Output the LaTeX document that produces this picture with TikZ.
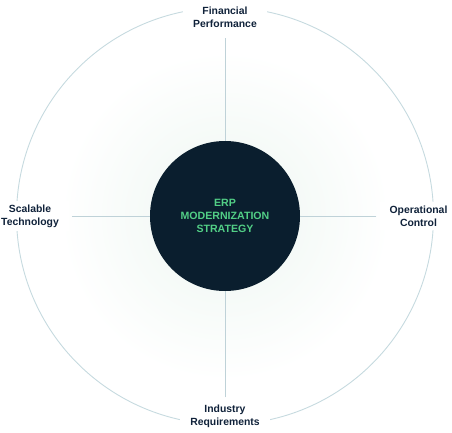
\documentclass[tikz,border=0pt]{standalone}
\usepackage{fontspec}
\setmainfont{Liberation Sans}
\usetikzlibrary{positioning}
\definecolor{ringline}{HTML}{C6DADF}
\definecolor{spokeline}{HTML}{BFD2D8}
\definecolor{navy}{HTML}{0A1E2E}
\definecolor{labeltext}{HTML}{10223A}
\definecolor{mint}{HTML}{52CF86}
\definecolor{glow}{HTML}{EDF6F1}

\begin{document}
\begin{tikzpicture}[x=1pt,y=-1pt,
		pillar/.style={fill=white, inner xsep=10pt, inner ysep=4pt, align=center, text=labeltext, font=\fontsize{10.4}{13}\selectfont\bfseries},
		spoke/.style={draw=spokeline, line width=0.9pt, shorten <=3pt}]
				\useasboundingbox (0,0) rectangle (452,433);
				\shade[inner color=glow, outer color=white] (225,216) circle (165);
				\draw[ringline, line width=0.9pt] (225,216) circle (208.5);

				\node (core) [circle, fill=navy, minimum size=150pt, inner sep=0pt, text=mint, align=center, font=\fontsize{10.6}{12.8}\selectfont\bfseries] at (225,216) {ERP\\MODERNIZATION\\STRATEGY};

				\node (fin) [pillar] at (225,17.5) {Financial\\Performance};
				\node (tech) [pillar] at (30,216) {Scalable\\Technology};
				\node (ops) [pillar] at (418.5,216) {Operational\\Control};
				\node (ind) [pillar] at (225,416) {Industry\\Requirements};

				\draw[spoke, shorten <=6pt] (fin) -- (core);
				\draw[spoke] (tech) -- (core);
				\draw[spoke] (ops) -- (core);
				\draw[spoke] (ind) -- (core);
			\end{tikzpicture}
\end{document}
